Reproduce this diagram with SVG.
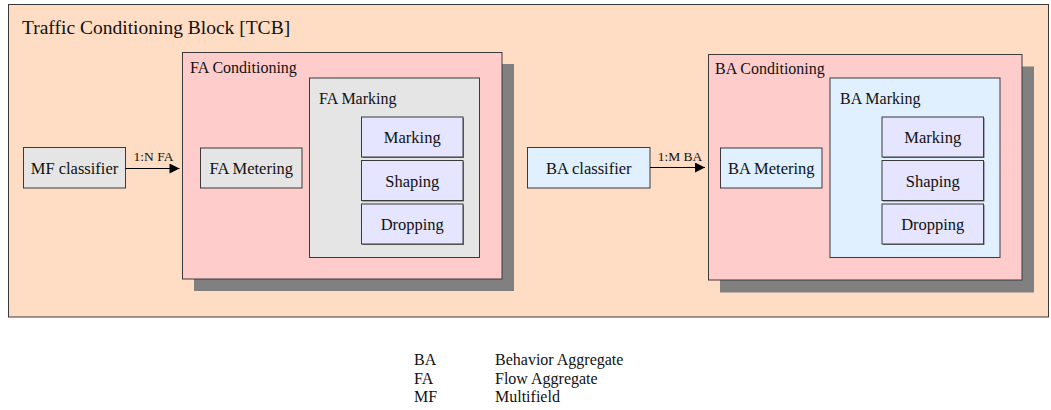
<svg xmlns="http://www.w3.org/2000/svg" width="1051" height="410" viewBox="0 0 1051 410">
  <defs>
    <style>
      text { font-family: "Liberation Serif", "Times New Roman", serif; fill: #111; }
      .t16 { font-size: 16px; }
      .tb { font-size: 16.5px; }
      .title { font-size: 19.5px; }
      .lbl { font-size: 13.5px; }
      .box { stroke: #3a3a3a; stroke-width: 1; }
      .tcb { fill: #FFDDC4; }
      .cond { fill: #FFCCCC; }
      .gray { fill: #E5E5E5; }
      .blue { fill: #E0F0FF; }
      .violet { fill: #E5E5FF; }
      .shadow { fill: #808080; }
      .edge { fill: #6a6a6a; }
      .conn { stroke: #000; stroke-width: 1.2; fill: none; }
    </style>
    <marker id="arrow" viewBox="0 0 10 10" refX="10" refY="5" markerUnits="userSpaceOnUse" markerWidth="12" markerHeight="10" orient="auto">
      <path d="M0,0 L10,5 L0,10 Z" fill="#000"/>
    </marker>
  </defs>

  <!-- Outer traffic conditioning block -->
  <g id="tcb">
    <rect class="box tcb" x="8.5" y="4.5" width="1040" height="312.5"/>
    <text class="title" x="22" y="34">Traffic Conditioning Block [TCB]</text>
  </g>

  <!-- Multifield classifier -->
  <g id="mf-classifier">
    <rect class="box gray" x="23.5" y="147.5" width="102" height="40.5"/>
    <text class="tb" x="74.5" y="173.5" text-anchor="middle">MF classifier</text>
  </g>

  <!-- Flow aggregate conditioning -->
  <g id="fa-conditioning">
    <rect class="shadow" x="194" y="64" width="320" height="227"/>
    <rect class="box cond" x="182.5" y="52.5" width="319.5" height="226.5"/>
    <text class="t16" x="190" y="72.5">FA Conditioning</text>
  </g>
  <g id="fa-metering">
    <rect class="box gray" x="200.5" y="148" width="101.5" height="40"/>
    <text class="tb" x="251.25" y="174" text-anchor="middle">FA Metering</text>
  </g>
  <g id="fa-marking">
    <rect class="box gray" x="309.5" y="78" width="170" height="179.5"/>
    <text class="t16" x="319" y="104">FA Marking</text>
  </g>
  <g id="fa-mark">
    <rect class="edge" x="362.5" y="118" width="101.5" height="40"/>
    <rect class="box violet" x="361.5" y="117" width="101.5" height="40"/>
    <text class="tb" x="412.25" y="143" text-anchor="middle">Marking</text>
  </g>
  <g id="fa-shape">
    <rect class="edge" x="362.5" y="161.5" width="101.5" height="40"/>
    <rect class="box violet" x="361.5" y="160.5" width="101.5" height="40"/>
    <text class="tb" x="412.25" y="186.5" text-anchor="middle">Shaping</text>
  </g>
  <g id="fa-drop">
    <rect class="edge" x="362.5" y="205" width="101.5" height="40"/>
    <rect class="box violet" x="361.5" y="204" width="101.5" height="40"/>
    <text class="tb" x="412.25" y="230" text-anchor="middle">Dropping</text>
  </g>

  <!-- Behavior aggregate classifier -->
  <g id="ba-classifier">
    <rect class="box blue" x="527.5" y="147.5" width="122.5" height="40.5"/>
    <text class="tb" x="588.75" y="173.5" text-anchor="middle">BA classifier</text>
  </g>

  <!-- Behavior aggregate conditioning -->
  <g id="ba-conditioning">
    <rect class="shadow" x="720" y="66.5" width="314" height="226"/>
    <rect class="box cond" x="708.5" y="54.5" width="313.5" height="225.5"/>
    <text class="t16" x="715" y="74">BA Conditioning</text>
  </g>
  <g id="ba-metering">
    <rect class="box blue" x="720.5" y="148" width="101.5" height="40"/>
    <text class="tb" x="771.25" y="174" text-anchor="middle">BA Metering</text>
  </g>
  <g id="ba-marking">
    <rect class="box blue" x="830" y="78" width="170" height="179.5"/>
    <text class="t16" x="840" y="104">BA Marking</text>
  </g>
  <g id="ba-mark">
    <rect class="edge" x="883" y="118" width="101.5" height="40"/>
    <rect class="box violet" x="882" y="117" width="101.5" height="40"/>
    <text class="tb" x="932.75" y="143" text-anchor="middle">Marking</text>
  </g>
  <g id="ba-shape">
    <rect class="edge" x="883" y="161.5" width="101.5" height="40"/>
    <rect class="box violet" x="882" y="160.5" width="101.5" height="40"/>
    <text class="tb" x="932.75" y="186.5" text-anchor="middle">Shaping</text>
  </g>
  <g id="ba-drop">
    <rect class="edge" x="883" y="205" width="101.5" height="40"/>
    <rect class="box violet" x="882" y="204" width="101.5" height="40"/>
    <text class="tb" x="932.75" y="230" text-anchor="middle">Dropping</text>
  </g>

  <!-- Connectors -->
  <g id="connectors">
    <line class="conn" x1="125.5" y1="168.5" x2="179.5" y2="168.5" marker-end="url(#arrow)"/>
    <text class="lbl" x="153.5" y="160.5" text-anchor="middle">1:N FA</text>
    <line class="conn" x1="650" y1="167.5" x2="705" y2="167.5" marker-end="url(#arrow)"/>
    <text class="lbl" x="680" y="160.5" text-anchor="middle">1:M BA</text>
  </g>

  <!-- Abbreviation legend -->
  <g id="legend" class="t16">
    <text x="414" y="365">BA</text>
    <text x="495" y="365">Behavior Aggregate</text>
    <text x="414" y="383.5">FA</text>
    <text x="495" y="383.5">Flow Aggregate</text>
    <text x="414" y="402">MF</text>
    <text x="495" y="402">Multifield</text>
  </g>
</svg>
